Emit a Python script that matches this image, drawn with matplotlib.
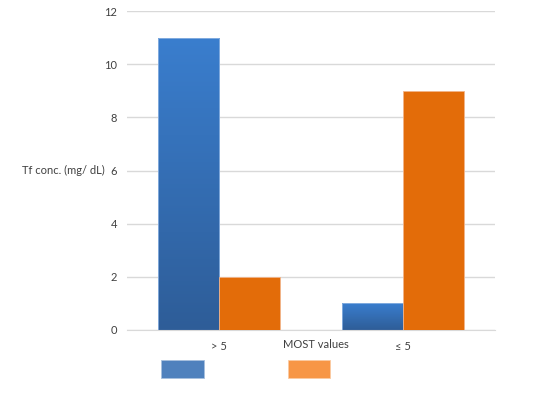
import matplotlib
matplotlib.use("Agg")
import matplotlib.pyplot as plt
import numpy as np
from matplotlib.colors import LinearSegmentedColormap
from matplotlib.patches import Rectangle

categories = ["> 5", "≤ 5"]
series_blue = [11, 1]
series_orange = [2, 9]
yticks = [0, 2, 4, 6, 8, 10, 12]
xlabel = "MOST values"
ylabel = "Tf conc. (mg/ dL)"

plt.rcParams['font.family'] = ['Lato', 'DejaVu Sans']

fig = plt.figure(figsize=(5.58, 3.96), dpi=100)
ax = fig.add_axes([127/558, 1-330/396, (495-127)/558, (330-11)/396])

x = np.arange(len(categories))
w = 0.333
blue_cmap = LinearSegmentedColormap.from_list("b", ["#2E5D98", "#3A7ECE"])

bars_b = ax.bar(x - w/2, series_blue, width=w, color="none", edgecolor="#8DB3E2", linewidth=0.6, zorder=3)
bars_o = ax.bar(x + w/2, series_orange, width=w, color="#E36C09", edgecolor="#F2B48A", linewidth=0.6, zorder=3)

grad = np.linspace(0, 1, 256).reshape(-1, 1)
for b in bars_b:
    bx, by = b.get_x(), b.get_y()
    bw, bh = b.get_width(), b.get_height()
    im = ax.imshow(grad, cmap=blue_cmap, origin="lower", aspect="auto",
                   extent=[bx, bx + bw, by, by + bh], zorder=2.5)
    im.set_clip_path(b)
ax.set_xlim(-0.5, 1.5)
ax.set_ylim(0, 12)

ax.set_yticks(yticks)
ax.yaxis.grid(True, color="#D9D9D9", linewidth=1)
ax.set_axisbelow(True)
for s in ["top", "right", "left"]:
    ax.spines[s].set_visible(False)
ax.spines["bottom"].set_color("#D9D9D9")
ax.tick_params(axis="both", length=0, labelsize=8, colors="#404040")
ax.tick_params(axis="y", pad=7)
ax.set_xticks(x)
ax.set_xticklabels(categories)
ax.tick_params(axis="x", pad=8)

fig.text(283/558, 1-345/396, xlabel, fontsize=8, color="#404040", ha="left", va="center")
fig.text(22/558, 1-170/396, ylabel, fontsize=8, color="#404040", ha="left", va="center")

fig.patches.append(Rectangle((161/558, 1-378/396), 43/558, 18/396, transform=fig.transFigure,
                             facecolor="#4F81BD", edgecolor="#A7C0DE", linewidth=0.6))
fig.patches.append(Rectangle((288/558, 1-378/396), 42/558, 18/396, transform=fig.transFigure,
                             facecolor="#F79646", edgecolor="#FBCBA2", linewidth=0.6))

fig.savefig("out.png", dpi=100)
